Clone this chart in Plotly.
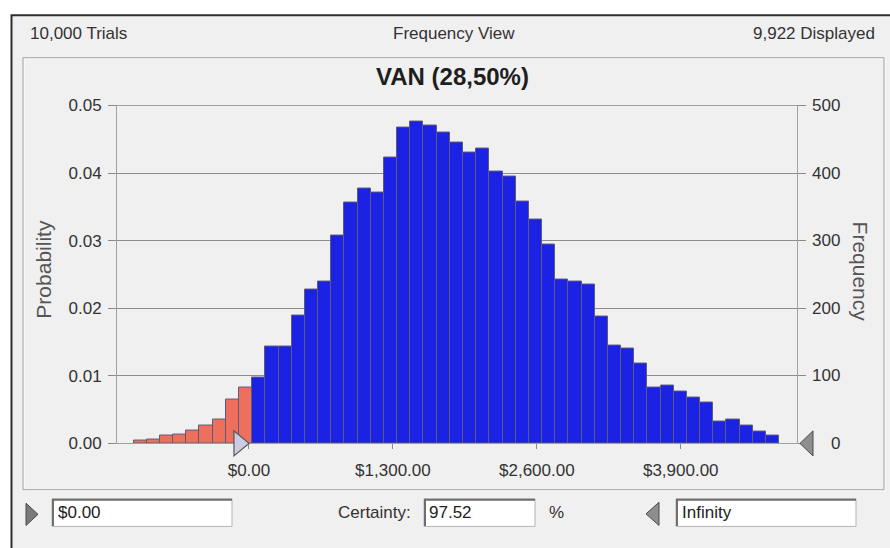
import plotly.graph_objects as go

# ---- data -------------------------------------------------------------
trials = 10000
displayed = 9922
certainty = 97.52
threshold = 0.0            # lower certainty bound ($)
bin_start = -1042.0        # left edge of the first bin ($)
bin_width = 119.0          # bin width ($)

# frequency per bin (49 bins)
freq = [4, 6, 11, 13, 19, 26, 35, 65, 82,
        98, 144, 144, 189, 228, 240, 308, 356, 377, 371, 423, 467, 476, 470, 460,
        445, 431, 436, 402, 395, 358, 331, 295, 242, 240, 235, 188, 145, 141, 118,
        83, 85, 77, 68, 60, 32, 35, 26, 17, 11]

x_ticks = [0, 1300, 2600, 3900]
prob_ticks = [0.00, 0.01, 0.02, 0.03, 0.04, 0.05]
freq_ticks = [0, 100, 200, 300, 400, 500]
x_range = [-1192, 4950]

# ---- styling ----------------------------------------------------------
W, H = 890, 548
FONT = "Liberation Sans"
TXT = "#333333"
BLUE = "#1B22E4"
RED = "#EF6F5E"


def px(x):
    return x / W


def py(y):
    return 1 - y / H


centers0 = bin_start + bin_width / 2
colors = [RED if (bin_start + (i + 0.5) * bin_width) < threshold else BLUE
          for i in range(len(freq))]

fig = go.Figure()
fig.add_trace(go.Bar(
    x0=centers0, dx=bin_width, y=freq, yaxis="y2",
    marker=dict(color=colors, line=dict(color="#5C5C7A", width=1)),
    hoverinfo="skip",
))
# invisible trace to activate the probability axis
fig.add_trace(go.Scatter(x=[None], y=[None], yaxis="y", showlegend=False))

plot_l, plot_r, plot_t, plot_b = 117, 797, 100, 450

fig.update_layout(
    width=W, height=H,
    margin=dict(l=0, r=0, t=0, b=0),
    paper_bgcolor="white",
    plot_bgcolor="#FFFFF2",
    showlegend=False,
    bargap=0,
    font=dict(family=FONT, size=17, color=TXT),
    xaxis=dict(
        domain=[px(plot_l), px(plot_r)],
        range=x_range,
        tickvals=x_ticks, tickformat="$,.2f",
        ticks="outside", ticklen=5, tickcolor="#8A8A8A",
        showgrid=False, zeroline=False,
        showline=True, linecolor="#A0A0A0", mirror=True,
        tickfont=dict(size=17, color=TXT),
        ticklabelstandoff=6,
        fixedrange=True,
    ),
    yaxis=dict(
        domain=[py(plot_b), py(plot_t)],
        range=[0, 0.05],
        tickvals=prob_ticks, tickformat=".2f",
        ticks="outside", ticklen=8, tickcolor="#8A8A8A",
        showgrid=True, gridcolor="#8C8C8C", gridwidth=1,
        zeroline=False,
        showline=True, linecolor="#A0A0A0", mirror=True,
        tickfont=dict(size=17, color=TXT),
        ticklabelstandoff=3,
        fixedrange=True,
    ),
    yaxis2=dict(
        overlaying="y", side="right",
        range=[0, 500],
        tickvals=freq_ticks,
        ticks="outside", ticklen=8, tickcolor="#8A8A8A",
        showticklabels=False, showgrid=False, zeroline=False,
        showline=False,
        fixedrange=True,
    ),
)

shapes = []
# window frame
shapes.append(dict(type="rect", xref="paper", yref="paper",
                   x0=px(11.5), x1=px(905), y0=py(560), y1=py(6.5),
                   fillcolor="#F0F0F0", line=dict(color="#2E2E2E", width=2),
                   layer="below"))
# chart panel (etched border)
shapes.append(dict(type="rect", xref="paper", yref="paper",
                   x0=px(24), x1=px(885), y0=py(499), y1=py(51.5),
                   line=dict(color="#FFFFFF", width=1), layer="below"))
shapes.append(dict(type="rect", xref="paper", yref="paper",
                   x0=px(23), x1=px(884), y0=py(498), y1=py(50.5),
                   line=dict(color="#A0A0A0", width=1), layer="below"))

# lower-bound marker sitting on the x axis at the threshold value
thr_frac = (threshold - x_range[0]) / (x_range[1] - x_range[0])
shapes.append(dict(type="path", xref="x domain", yref="paper",
                   xsizemode="pixel", ysizemode="pixel",
                   xanchor=thr_frac, yanchor=py(plot_b),
                   path="M -15,-12.5 L 0,0 L -15,12.5 Z",
                   fillcolor="#C9CCE2", line=dict(color="#555555", width=1.2)))
# upper-bound marker at the right edge
shapes.append(dict(type="path", xref="paper", yref="paper",
                   path=f"M {px(800)},{py(450)} L {px(813)},{py(437)} L {px(813)},{py(463)} Z",
                   fillcolor="#8E8E8E", line=dict(color="#4A4A4A", width=1)))

# bottom control row: arrows and text boxes
shapes.append(dict(type="path", xref="paper", yref="paper",
                   path=f"M {px(38)},{py(523.5)} L {px(26)},{py(512)} L {px(26)},{py(535)} Z",
                   fillcolor="#7A7A7A", line=dict(color="#4A4A4A", width=1)))
shapes.append(dict(type="path", xref="paper", yref="paper",
                   path=f"M {px(646)},{py(523)} L {px(659)},{py(511)} L {px(659)},{py(535)} Z",
                   fillcolor="#8E8E8E", line=dict(color="#4A4A4A", width=1)))

for (bx0, bx1) in [(52, 232), (424, 535), (676, 856)]:
    shapes.append(dict(type="rect", xref="paper", yref="paper",
                       x0=px(bx0), x1=px(bx1), y0=py(536), y1=py(507.5),
                       fillcolor="white", line=dict(color="#B4B4B4", width=1)))
    shapes.append(dict(type="path", xref="paper", yref="paper",
                       path=f"M {px(bx0 + 1)},{py(535.5)} L {px(bx0 + 1)},{py(508.5)} L {px(bx1)},{py(508.5)}",
                       line=dict(color="#6E6E6E", width=2)))

fig.update_layout(shapes=shapes)

ann = []


def text(x, y, s, size=17, anchor="center", color=TXT, angle=0):
    ann.append(dict(xref="paper", yref="paper", x=px(x), y=py(y), text=s,
                    showarrow=False, xanchor=anchor, yanchor="middle",
                    textangle=angle, font=dict(family=FONT, size=size, color=color)))


# header
text(28, 25, f"{trials:,} Trials", anchor="left")
text(454, 25, "Frequency View")
text(877, 25, f"{displayed:,} Displayed", anchor="right")
# chart title
text(452, 70, "<b>VAN (28,50%)</b>", size=24, color="#1E1E1E")
# axis titles
text(44, 270, "Probability", size=21, color="#555555", angle=-90)
text(860, 272, "Frequency", size=21, color="#555555", angle=90)

# right-hand frequency labels (right aligned)
for v in freq_ticks:
    ann.append(dict(xref="paper", yref="y2", x=px(842), y=v, text=str(v),
                    showarrow=False, xanchor="right", yanchor="middle",
                    font=dict(family=FONT, size=17, color=TXT)))

# bottom controls text
text(56, 521.5, "$0.00", anchor="left", color="#222222")
text(413, 521.5, "Certainty:", anchor="right")
text(427, 521.5, f"{certainty:.2f}", anchor="left", color="#222222")
text(556, 521.5, "%")
text(680, 521.5, "Infinity", anchor="left", color="#222222")

fig.update_layout(annotations=ann)

fig.write_html("out.html", config=dict(displayModeBar=False))
